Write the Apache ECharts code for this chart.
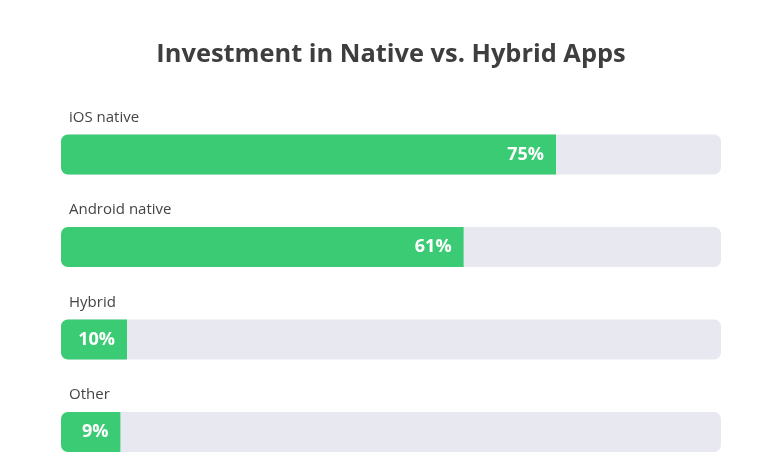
<!DOCTYPE html>
<html>
<head>
<meta charset="utf-8">
<script src="https://cdn.jsdelivr.net/npm/echarts@6/dist/echarts.min.js"></script>
<style>html,body{margin:0;padding:0;background:#fff;}#c{width:761px;height:472px;}</style>
</head>
<body>
<div id="c"></div>
<script>
var categories = ['iOS native', 'Android native', 'Hybrid', 'Other'];
var values = [75, 61, 10, 9];
var fullValues = [100, 100, 100, 100];

var chart = echarts.init(document.getElementById('c'), null, {renderer: 'canvas'});
chart.setOption({
  animation: false,
  backgroundColor: '#ffffff',
  title: {
    text: 'Investment in Native vs. Hybrid Apps',
    left: 386, top: 37, textAlign: 'center',
    textStyle: {fontFamily: 'Open Sans', fontWeight: 'bold', fontSize: 25.4, color: '#3e3e3e'}
  },
  grid: {left: 61, width: 660, top: 154.5, height: 277.5},
  xAxis: {type: 'value', min: 0, max: 100, show: false},
  yAxis: {type: 'category', data: categories, inverse: true, show: false, boundaryGap: false},
  series: [
    {
      type: 'bar', data: fullValues, barWidth: 40, barGap: '-100%', silent: true,
      itemStyle: {color: '#e8e8f1', borderRadius: 7},
      label: {
        show: true, position: [8, -17], align: 'left', verticalAlign: 'middle',
        formatter: function (p) { return categories[p.dataIndex]; },
        fontFamily: 'Open Sans', fontSize: 15, color: '#444444'
      },
      z: 1
    },
    {
      type: 'bar', data: values, barWidth: 40, barGap: '-100%',
      itemStyle: {color: '#3bcb75', borderRadius: [7, 0, 0, 7]},
      label: {
        show: true, position: 'insideRight', distance: 12,
        formatter: '{c}%',
        fontFamily: 'Open Sans', fontWeight: 'bold', fontSize: 18, color: '#ffffff'
      },
      z: 2
    }
  ]
});
</script>
</body>
</html>
